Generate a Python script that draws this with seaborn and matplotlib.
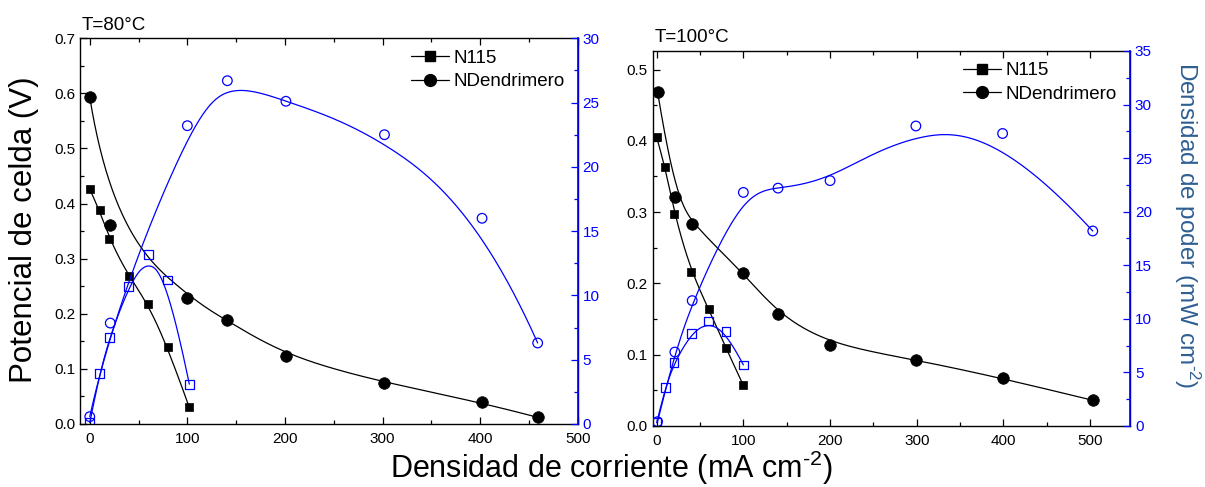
import numpy as np
import matplotlib
matplotlib.use("Agg")
import matplotlib.pyplot as plt
import seaborn as sns
from matplotlib.lines import Line2D
from matplotlib.ticker import MultipleLocator, FormatStrFormatter

# ---- data: T = 80 °C ----
i80_n115 = [0, 10, 20, 40, 60, 80, 102]
v80_n115 = [0.426, 0.388, 0.335, 0.268, 0.218, 0.139, 0.030]
p80_n115 = [0.1, 3.9, 6.7, 10.7, 13.2, 11.2, 3.1]

i80_nd = [0, 21, 100, 141, 201, 302, 402, 459]
v80_nd = [0.593, 0.361, 0.229, 0.188, 0.123, 0.074, 0.039, 0.012]
p80_nd = [0.57, 7.85, 23.2, 26.7, 25.1, 22.5, 16.0, 6.3]

# ---- data: T = 100 °C ----
i100_n115 = [0, 10, 20, 40, 60, 80, 100]
v100_n115 = [0.405, 0.363, 0.298, 0.216, 0.164, 0.109, 0.057]
p100_n115 = [0.3, 3.6, 5.9, 8.65, 9.8, 8.8, 5.7]

i100_nd = [1, 21, 41, 100, 140, 200, 299, 399, 503]
v100_nd = [0.469, 0.321, 0.283, 0.215, 0.157, 0.114, 0.093, 0.067, 0.036]
p100_nd = [0.4, 6.9, 11.7, 21.8, 22.2, 22.9, 28.0, 27.3, 18.2]

titles = ["T=80°C", "T=100°C"]
series_names = ["N115", "NDendrimero"]

sns.set_style("ticks")
plt.rcParams["font.family"] = ["Liberation Sans", "DejaVu Sans"]
plt.rcParams["mathtext.fontset"] = "custom"
plt.rcParams["mathtext.rm"] = "Liberation Sans"
plt.rcParams["mathtext.default"] = "regular"
plt.rcParams["text.color"] = "black"
plt.rcParams["axes.labelcolor"] = "black"
plt.rcParams["xtick.color"] = "black"
plt.rcParams["ytick.color"] = "black"

BLUE = "#0000ff"
LABEL_BLUE = "#2f5f92"


def bspline(xs, ys, n=400, k=3):
    """Clamped B-spline using the points as control points."""
    P = np.column_stack([xs, ys]).astype(float)
    m = len(P)
    k = min(k, m - 1)
    knots = np.concatenate([np.zeros(k), np.linspace(0, 1, m - k + 1), np.ones(k)])
    t = np.linspace(0, 1, n)
    nb = len(knots) - 1
    N = np.zeros((n, nb))
    for i in range(nb):
        N[:, i] = (knots[i] <= t) & (t < knots[i + 1])
    last = np.max(np.nonzero(knots < 1)[0])
    N[t >= 1, :] = 0
    N[t >= 1, last] = 1
    for d in range(1, k + 1):
        Nn = np.zeros((n, nb - d))
        for i in range(nb - d):
            a = knots[i + d] - knots[i]
            b = knots[i + d + 1] - knots[i + 1]
            term = np.zeros(n)
            if a > 0:
                term += (t - knots[i]) / a * N[:, i]
            if b > 0:
                term += (knots[i + d + 1] - t) / b * N[:, i + 1]
            Nn[:, i] = term
        N = Nn
    C = N[:, :m] @ P
    return C[:, 0], C[:, 1]


def draw_curve(ax, xs, ys, color):
    cx, cy = bspline(xs, ys)
    sns.lineplot(x=cx, y=cy, ax=ax, color=color, lw=0.9, sort=False,
                 estimator=None, legend=False, zorder=2)


def filled(ax, xs, ys, marker, size):
    sns.scatterplot(x=xs, y=ys, ax=ax, marker=marker, s=size, color="black",
                    edgecolor="black", linewidth=0.5, zorder=3, legend=False)


def hollow(ax, xs, ys, marker, size):
    sns.scatterplot(x=xs, y=ys, ax=ax, marker=marker, s=size, facecolors="none",
                    edgecolor=BLUE, linewidth=0.9, zorder=3, legend=False)


fig = plt.figure(figsize=(12.05, 4.87), dpi=100)
ax1 = fig.add_axes([0.0664, 0.1294, 0.4130, 0.7920])
ax2 = fig.add_axes([0.5417, 0.1253, 0.3961, 0.7700])

panels = [
    (ax1, i80_n115, v80_n115, p80_n115, i80_nd, v80_nd, p80_nd,
     (-10, 500), (0, 0.7), (0, 30)),
    (ax2, i100_n115, v100_n115, p100_n115, i100_nd, v100_nd, p100_nd,
     (-4.5, 546), (0, 0.526), (0, 35)),
]

for idx, (ax, ia, va, pa, ib, vb, pb, xl, yl, pl) in enumerate(panels):
    # cell potential
    draw_curve(ax, ia, va, "black")
    draw_curve(ax, ib, vb, "black")
    filled(ax, ia, va, "s", 40)
    filled(ax, ib, vb, "o", 70)
    ax.set_xlim(*xl)
    ax.set_ylim(*yl)
    ax.xaxis.set_major_locator(MultipleLocator(100))
    ax.xaxis.set_minor_locator(MultipleLocator(50))
    ax.yaxis.set_major_locator(MultipleLocator(0.1))
    ax.yaxis.set_minor_locator(MultipleLocator(0.05))
    ax.yaxis.set_major_formatter(FormatStrFormatter("%.1f"))
    ax.tick_params(which="both", direction="in", top=True, right=False,
                   labelsize=11, colors="black", width=0.9)
    ax.tick_params(which="major", length=5)
    ax.tick_params(which="minor", length=3)
    ax.tick_params(axis="x", pad=6)
    for s in ax.spines.values():
        s.set_linewidth(1.0)
        s.set_color("black")
    ax.set_xlabel("")
    ax.set_ylabel("")

    # power density
    tw = ax.twinx()
    draw_curve(tw, ia, pa, BLUE)
    draw_curve(tw, ib, pb, BLUE)
    hollow(tw, ia, pa, "s", 40)
    hollow(tw, ib, pb, "o", 48)
    tw.set_ylim(*pl)
    tw.yaxis.set_major_locator(MultipleLocator(5))
    tw.yaxis.set_minor_locator(MultipleLocator(2.5))
    tw.tick_params(which="both", direction="in", colors=BLUE, labelsize=11,
                   width=0.9, labelcolor=BLUE)
    tw.tick_params(which="major", length=5)
    tw.tick_params(which="minor", length=3)
    for name, s in tw.spines.items():
        s.set_visible(name == "right")
    tw.spines["right"].set_color(BLUE)
    tw.spines["right"].set_linewidth(1.2)
    tw.set_ylabel("")

    ax.text(0.003, 1.012, titles[idx], transform=ax.transAxes, ha="left",
            va="bottom", fontsize=13.5)

    handles = [
        Line2D([], [], color="black", lw=0.9, marker="s", markersize=6.5),
        Line2D([], [], color="black", lw=0.9, marker="o", markersize=8.5),
    ]
    ax.legend(handles, series_names, loc="upper right", frameon=False,
              fontsize=13.5, handlelength=2.0, handletextpad=0.25,
              borderaxespad=0.3, labelspacing=0.35, numpoints=1,
              bbox_to_anchor=(1.0, 1.005))

fig.text(0.507, 0.040, r"Densidad de corriente (mA cm$^{\text{-2}}$)",
         ha="center", va="center", fontsize=22)
fig.text(0.020, 0.528, "Potencial de celda (V)", rotation=90, ha="center",
         va="center", fontsize=22.5)
fig.text(0.985, 0.538, r"Densidad de poder (mW cm$^{\text{-2}}$)", rotation=270,
         ha="center", va="center", fontsize=17.5, color=LABEL_BLUE)

fig.savefig("out.png", dpi=100)
